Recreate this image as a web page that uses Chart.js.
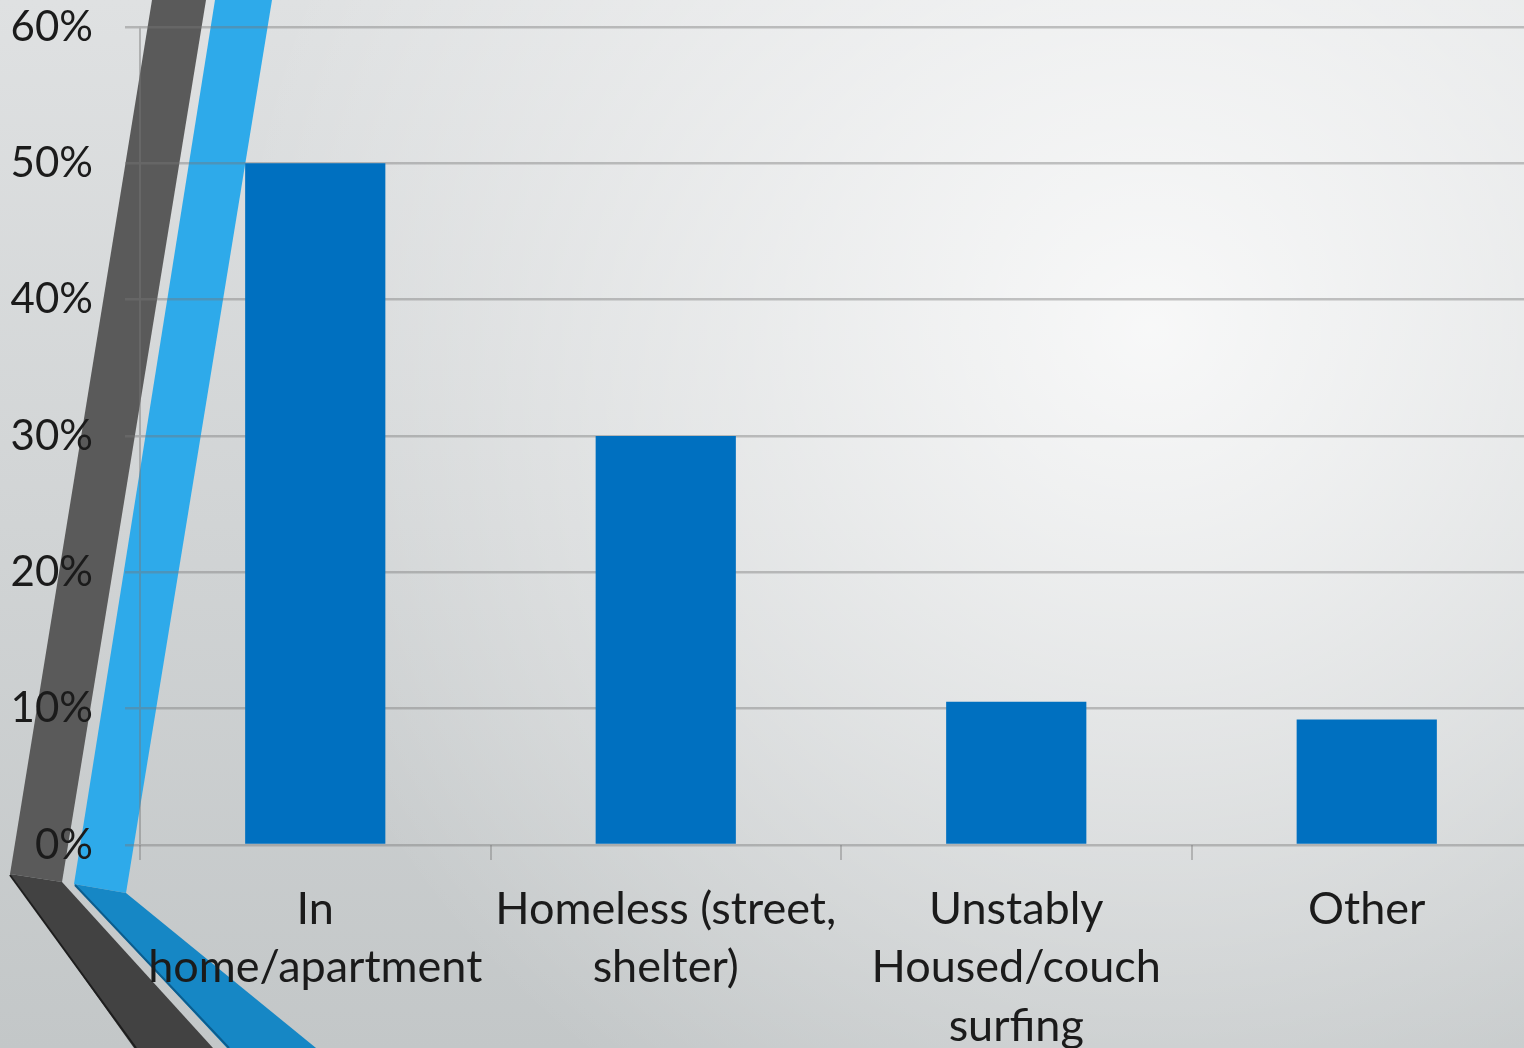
<!DOCTYPE html>
<html>
<head>
<meta charset="utf-8">
<script src="https://cdn.jsdelivr.net/npm/chart.js@4.4.1/dist/chart.umd.min.js"></script>
<style>
    html, body { margin: 0; padding: 0; overflow: hidden; background: #d6d8d9; }
    #wrap { position: absolute; left: 0; top: 0; width: 1560px; height: 1048px; }
</style>
</head>
<body>
<div id="wrap"><canvas id="housingChart"></canvas></div>
<script>
// --- данные ---
const categories = [
    ['In', 'home/apartment'],
    ['Homeless (street,', 'shelter)'],
    ['Unstably', 'Housed/couch', 'surfing'],
    ['Other']
];
const shares = [50, 30, 10.5, 9.2];
const yTicks = [0, 10, 20, 30, 40, 50, 60];

const FONT = 'Lato, "Open Sans", sans-serif';
const TEXT = '#1b1b1b';
const GRID = 'rgba(120, 120, 120, 0.42)';

// фон слайда: серый градиент + декоративные полосы слева
const slideBackground = {
    id: 'slideBackground',
    beforeDraw(chart) {
        const { ctx, width, height } = chart;
        ctx.save();

        const base = ctx.createLinearGradient(0, 0, 0, height);
        base.addColorStop(0, '#dfe1e2');
        base.addColorStop(1, '#c3c7c8');
        ctx.fillStyle = base;
        ctx.fillRect(0, 0, width, height);

        const glow = ctx.createRadialGradient(1150, 330, 0, 1150, 330, 920);
        glow.addColorStop(0, 'rgba(255,255,255,0.82)');
        glow.addColorStop(0.5, 'rgba(255,255,255,0.42)');
        glow.addColorStop(1, 'rgba(255,255,255,0)');
        ctx.fillStyle = glow;
        ctx.fillRect(0, 0, width, height);

        const poly = (pts, color) => {
            ctx.beginPath();
            ctx.moveTo(pts[0][0], pts[0][1]);
            for (let i = 1; i < pts.length; i++) ctx.lineTo(pts[i][0], pts[i][1]);
            ctx.closePath();
            ctx.fillStyle = color;
            ctx.fill();
        };

        // тёмная полоса
        poly([[152, 0], [206, 0], [62, 882], [10, 874]], '#5a5a5a');
        poly([[10, 874], [62, 882], [213, 1048], [134, 1048]], '#424242');
        ctx.strokeStyle = '#1e1e1e';
        ctx.lineWidth = 2;
        ctx.beginPath(); ctx.moveTo(10, 875); ctx.lineTo(136, 1048); ctx.stroke();

        // голубая полоса
        poly([[215, 0], [272, 0], [126, 893], [74, 884]], '#2eaaea');
        poly([[74, 884], [126, 893], [316, 1048], [227, 1048]], '#1687c5');
        ctx.strokeStyle = '#0b5d8e';
        ctx.lineWidth = 2;
        ctx.beginPath(); ctx.moveTo(75, 885); ctx.lineTo(229, 1048); ctx.stroke();

        ctx.restore();
    }
};

// фиксированные размеры осей, без автоматических отступов под подписи
function fixBox(w, h) {
    return function(scale) {
        if (w) scale.width = w;
        if (h) scale.height = h;
        scale.paddingTop = 0; scale.paddingBottom = 0;
        scale.paddingLeft = 0; scale.paddingRight = 0;
    };
}

const ctx = document.getElementById('housingChart').getContext('2d');
new Chart(ctx, {
    type: 'bar',
    data: {
        labels: categories,
        datasets: [{
            data: shares,
            backgroundColor: '#0070c0',
            borderWidth: 0,
            barPercentage: 0.4,
            categoryPercentage: 1
        }]
    },
    options: {
        responsive: true, maintainAspectRatio: false, animation: false,
        devicePixelRatio: 1,
        layout: { padding: { top: 27, right: 18, bottom: 0, left: 0 } },
        scales: {
            x: {
                afterFit: fixBox(0, 203),
                grid: { offset: true, drawOnChartArea: false, drawTicks: true, tickLength: 15, color: GRID, lineWidth: 2 },
                border: { display: false },
                ticks: {
                    color: TEXT, padding: 20, maxRotation: 0, autoSkip: false,
                    font: { family: FONT, size: 45, lineHeight: 1.3 }
                }
            },
            y: {
                min: 0, max: 60,
                afterFit: fixBox(140, 0),
                afterBuildTicks(scale) { scale.ticks = yTicks.map(v => ({ value: v })); },
                grid: { color: GRID, lineWidth: 2.5, tickLength: 15 },
                border: { color: 'rgba(120,120,120,0.45)', width: 2 },
                ticks: {
                    color: TEXT, padding: 32,
                    font: { family: FONT, size: 42 },
                    callback: v => v + '%'
                }
            }
        },
        plugins: {
            legend: { display: false },
            tooltip: { enabled: false }
        }
    },
    plugins: [slideBackground]
});
</script>
</body>
</html>
